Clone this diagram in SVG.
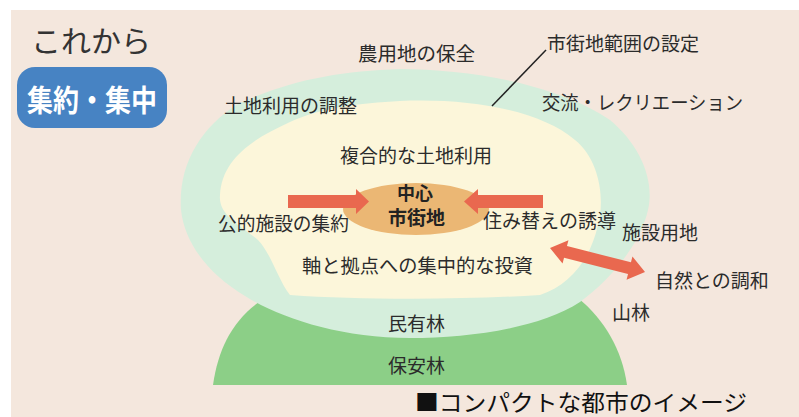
<svg xmlns="http://www.w3.org/2000/svg" width="799" height="417" viewBox="0 0 799 417">
<defs>
<style>
text{font-family:"Noto Sans CJK JP","Noto Sans",sans-serif;fill:#2b2b2b;font-size:19px}
.b{font-weight:bold}
.arrow{fill:#e9684f}
</style>
</defs>
<rect x="0" y="0" width="799" height="417" fill="#ffffff"/>
<rect x="11" y="10" width="788" height="407" fill="#f4e7dd"/>

<g id="forest">
<path d="M213,385 C218,350 232,320 262,300 Q420,282 578,298 C605,320 622,350 627,385 Z" fill="#8ccf87"/>
</g>
<g id="suburb">
<path d="M400,69 C470,69 560,85 610,120 C640,145 655,180 648,210 C640,245 610,280 580,302 C540,328 470,338 410,338 C340,338 280,318 245,296 C210,275 185,245 181,210 C178,165 200,128 238,104 C290,80 340,71 400,69 Z" fill="#d5eedc"/>
</g>
<g id="urban">
<path d="M400,101 C470,98 540,110 575,140 C600,160 605,200 598,225 C590,260 570,285 540,295 C460,300 360,300 290,295 C278,280 272,255 258,240 C240,225 218,215 220,195 C222,160 250,140 290,122 C320,108 360,103 400,101 Z" fill="#fcf6da"/>
</g>
<g id="center">
<ellipse cx="416" cy="209" rx="73" ry="26" fill="#ebb774"/>
</g>

<g id="connectors">
<line x1="546" y1="50" x2="492" y2="106" stroke="#222" stroke-width="1.5"/>
<polygon class="arrow" points="288,195 356,195 356,189 369,201.5 356,214 356,208 288,208"/>
<polygon class="arrow" points="543,195 478,195 478,189 464,201.5 478,214 478,208 543,208"/>
<polygon class="arrow" transform="translate(550,248) rotate(14.2)" points="0,0 16,-12 16,-6 82,-6 82,-12 98,0 82,12 82,6 16,6 16,12"/>
</g>

<g id="title">
<text x="31" y="52" style="font-size:30px;fill:#333">これから</text>
</g>
<g id="badge">
<rect x="17" y="67" width="150" height="61" rx="18" fill="#4783c3"/>
<text x="27" y="111" class="b" style="font-size:30px;fill:#fff" textLength="130" lengthAdjust="spacingAndGlyphs">集約・集中</text>
</g>

<g id="label-nouyouchi"><text x="358" y="61" style="font-size:19.5px">農用地の保全</text></g>
<g id="label-shigaichi-hani"><text x="547" y="51">市街地範囲の設定</text></g>
<g id="label-kouryu"><text x="542" y="110" textLength="201" lengthAdjust="spacingAndGlyphs">交流・レクリエーション</text></g>
<g id="label-tochi-chousei"><text x="224" y="113">土地利用の調整</text></g>
<g id="label-fukugou"><text x="340" y="163">複合的な土地利用</text></g>
<g id="label-chushin">
<text x="397" y="200" class="b" style="font-size:18px;fill:#222">中心</text>
<text x="388" y="225" class="b" style="fill:#222">市街地</text>
</g>
<g id="label-koutekishisetsu"><text x="218" y="231" textLength="131" lengthAdjust="spacingAndGlyphs">公的施設の集約</text></g>
<g id="label-sumikae"><text x="483" y="228">住み替えの誘導</text></g>
<g id="label-shisetsu"><text x="622" y="240">施設用地</text></g>
<g id="label-jiku"><text x="302" y="273" textLength="231" lengthAdjust="spacingAndGlyphs">軸と拠点への集中的な投資</text></g>
<g id="label-shizen"><text x="655" y="288">自然との調和</text></g>
<g id="label-sanrin"><text x="612" y="320">山林</text></g>
<g id="label-minyurin"><text x="388" y="331">民有林</text></g>
<g id="label-hoanrin"><text x="388" y="373">保安林</text></g>
<g id="caption"><text x="415" y="411" style="font-size:22.5px;fill:#111" textLength="332" lengthAdjust="spacingAndGlyphs">■コンパクトな都市のイメージ</text></g>
</svg>
